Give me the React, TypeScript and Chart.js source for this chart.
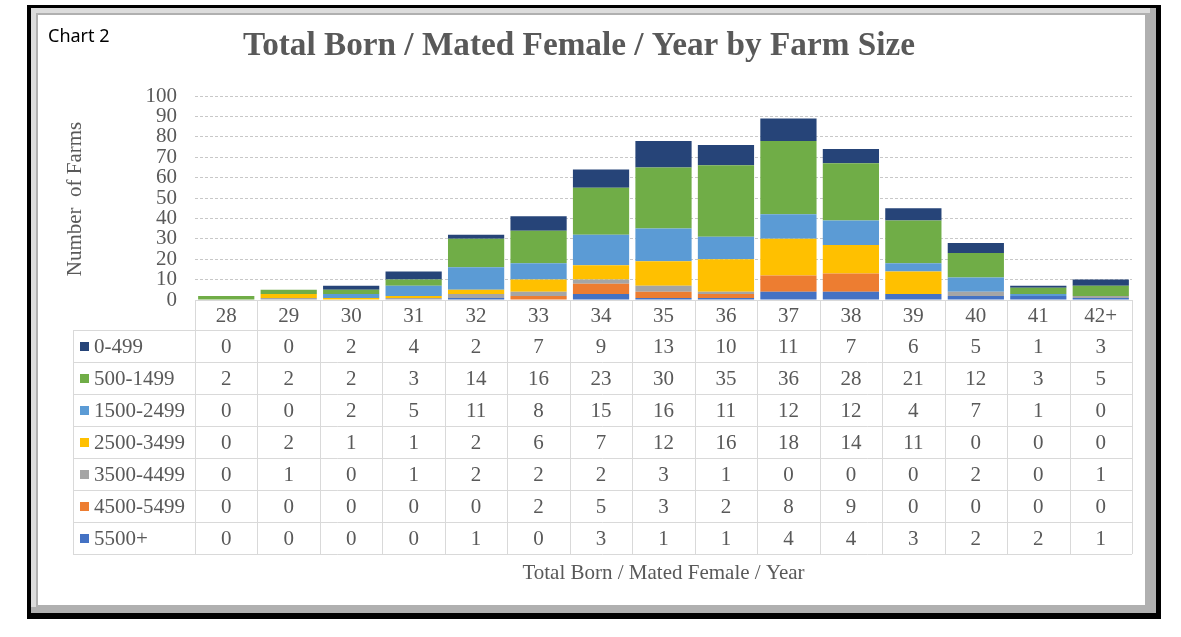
import { useEffect, useRef } from 'react';
import { Chart, ChartConfiguration, registerables } from 'chart.js';

Chart.register(...registerables);

// Total born / mated female / year buckets
const categories = ['28', '29', '30', '31', '32', '33', '34', '35', '36', '37', '38', '39', '40', '41', '42+'];

// number of farms per farm size (sows)
const size0to499 = [0, 0, 2, 4, 2, 7, 9, 13, 10, 11, 7, 6, 5, 1, 3];
const size500to1499 = [2, 2, 2, 3, 14, 16, 23, 30, 35, 36, 28, 21, 12, 3, 5];
const size1500to2499 = [0, 0, 2, 5, 11, 8, 15, 16, 11, 12, 12, 4, 7, 1, 0];
const size2500to3499 = [0, 2, 1, 1, 2, 6, 7, 12, 16, 18, 14, 11, 0, 0, 0];
const size3500to4499 = [0, 1, 0, 1, 2, 2, 2, 3, 1, 0, 0, 0, 2, 0, 1];
const size4500to5499 = [0, 0, 0, 0, 0, 2, 5, 3, 2, 8, 9, 0, 0, 0, 0];
const size5500plus = [0, 0, 0, 0, 1, 0, 3, 1, 1, 4, 4, 3, 2, 2, 1];

// table order (top to bottom); stacking goes the other way
const series = [
    { label: '0-499', data: size0to499, color: '#264478' },
    { label: '500-1499', data: size500to1499, color: '#70AD47' },
    { label: '1500-2499', data: size1500to2499, color: '#5B9BD5' },
    { label: '2500-3499', data: size2500to3499, color: '#FFC000' },
    { label: '3500-4499', data: size3500to4499, color: '#A5A5A5' },
    { label: '4500-5499', data: size4500to5499, color: '#ED7D31' },
    { label: '5500+', data: size5500plus, color: '#4472C4' },
];

const SERIF = "'Liberation Serif', 'Times New Roman', serif";
const TEXT = '#595959';
const LINE = '#d9d9d9';

const tablePlugin = {
    id: 'farmTable',
    beforeDraw(chart: any) {
        const ctx = chart.ctx;
        ctx.save();
        ctx.fillStyle = '#ffffff';
        ctx.fillRect(0, 0, chart.width, chart.height);
        // black outer frame + grey bevel
        ctx.fillStyle = '#000000';
        ctx.fillRect(27, 5, 1134, 614);
        ctx.fillStyle = '#b0b0b0';
        ctx.fillRect(31, 8, 1125, 605);
        ctx.fillStyle = '#dcdcdc';
        ctx.fillRect(31, 8, 1119, 5);
        ctx.fillRect(31, 8, 5, 599);
        ctx.fillStyle = '#ffffff';
        ctx.fillRect(38, 15, 1107, 590);
        ctx.restore();
    },
    afterDraw(chart: any) {
        const ctx = chart.ctx;
        const area = chart.chartArea;
        const xScale = chart.scales.x;
        const n = categories.length;
        const colW = (area.right - area.left) / n;
        const headTop = area.bottom;
        const rowsTop = headTop + 30;
        const rowH = 32;
        const rowsBottom = rowsTop + rowH * series.length;
        const legendLeft = 73;

        ctx.save();

        // "Chart 2"
        ctx.fillStyle = '#000000';
        ctx.font = "18px 'Noto Sans', sans-serif";
        ctx.textAlign = 'left';
        ctx.textBaseline = 'alphabetic';
        ctx.fillText('Chart 2', 48, 42);

        // main title, squeezed to the reference width
        const title = 'Total Born / Mated Female / Year by Farm Size';
        ctx.font = `bold 33px ${SERIF}`;
        ctx.fillStyle = TEXT;
        const tw = ctx.measureText(title).width;
        ctx.save();
        ctx.translate(579, 55);
        ctx.scale(672 / tw, 1);
        ctx.textAlign = 'center';
        ctx.fillText(title, 0, 0);
        ctx.restore();

        // y axis title
        ctx.save();
        ctx.translate(75, 199);
        ctx.rotate(-Math.PI / 2);
        ctx.font = `21px ${SERIF}`;
        ctx.textAlign = 'center';
        ctx.textBaseline = 'middle';
        ctx.fillText('Number  of Farms', 0, 0);
        ctx.restore();

        // table grid
        ctx.strokeStyle = LINE;
        ctx.lineWidth = 1;
        ctx.beginPath();
        ctx.moveTo(area.left, headTop + 0.5);
        ctx.lineTo(area.right, headTop + 0.5);
        for (let r = 0; r <= series.length; r++) {
            const y = Math.round(rowsTop + r * rowH) + 0.5;
            ctx.moveTo(legendLeft, y);
            ctx.lineTo(area.right, y);
        }
        for (let c = 0; c <= n; c++) {
            const x = Math.round(area.left + c * colW) + 0.5;
            ctx.moveTo(x, headTop);
            ctx.lineTo(x, rowsBottom);
        }
        ctx.moveTo(legendLeft + 0.5, rowsTop);
        ctx.lineTo(legendLeft + 0.5, rowsBottom);
        ctx.stroke();

        // header row (category labels)
        ctx.font = `21px ${SERIF}`;
        ctx.fillStyle = TEXT;
        ctx.textAlign = 'center';
        ctx.textBaseline = 'middle';
        categories.forEach((cat, i) => {
            ctx.fillText(cat, xScale.getPixelForValue(i), headTop + 16);
        });

        // data rows
        series.forEach((s, r) => {
            const cy = rowsTop + r * rowH + rowH / 2 + 1;
            ctx.fillStyle = s.color;
            ctx.fillRect(80, cy - 5, 9, 9);
            ctx.fillStyle = TEXT;
            ctx.textAlign = 'left';
            ctx.fillText(s.label, 94, cy);
            ctx.textAlign = 'center';
            s.data.forEach((v, i) => {
                ctx.fillText(String(v), xScale.getPixelForValue(i), cy);
            });
        });

        // x axis title
        ctx.font = `21px ${SERIF}`;
        ctx.textAlign = 'center';
        ctx.fillText('Total Born / Mated Female / Year', (area.left + area.right) / 2, 573);

        ctx.restore();
    },
};

export default function App() {
    const canvasRef = useRef<HTMLCanvasElement | null>(null);
    const chartRef = useRef<Chart | null>(null);

    useEffect(() => {
        if (!canvasRef.current) return;

        // bottom of the stack first
        const datasets = [...series].reverse().map(s => ({
            label: s.label,
            data: s.data,
            backgroundColor: s.color,
            borderWidth: 0,
            categoryPercentage: 0.9,
            barPercentage: 1,
        }));

        const config: ChartConfiguration = {
            type: 'bar',
            data: {
                labels: categories,
                datasets: datasets,
            },
            options: {
                responsive: false,
                animation: false,
                layout: {
                    padding: { left: 0, top: 96, right: 49, bottom: 337 },
                },
                plugins: {
                    legend: { display: false },
                    tooltip: { enabled: false },
                    title: { display: false },
                },
                scales: {
                    x: {
                        stacked: true,
                        display: false,
                    },
                    y: {
                        stacked: true,
                        min: 0,
                        max: 100,
                        afterFit: (scale: any) => {
                            scale.width = 195;
                        },
                        ticks: {
                            stepSize: 10,
                            autoSkip: false,
                            padding: 18,
                            color: TEXT,
                            font: { family: SERIF, size: 21, lineHeight: 1 },
                        },
                        grid: {
                            color: (c: any) => (c.tick && c.tick.value === 0 ? 'rgba(0,0,0,0)' : '#c8c8c8'),
                            drawTicks: false,
                        },
                        border: { display: false, dash: [3, 2] },
                    },
                },
            },
            plugins: [tablePlugin],
        };

        chartRef.current = new Chart(canvasRef.current, config);

        return () => {
            if (chartRef.current) {
                chartRef.current.destroy();
                chartRef.current = null;
            }
        };
    }, []);

    return (
        <div style={{ position: 'fixed', left: 0, top: 0, width: 1181, height: 637, background: '#fff' }}>
            <canvas ref={canvasRef} width={1181} height={637} style={{ width: 1181, height: 637 }}></canvas>
        </div>
    );
}
